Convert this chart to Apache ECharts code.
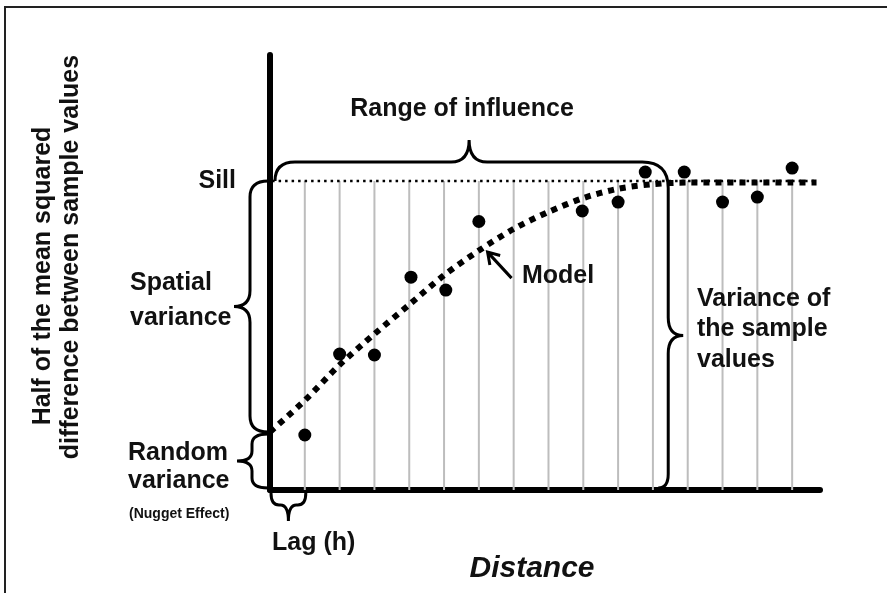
<!DOCTYPE html>
<html>
<head>
<meta charset="utf-8">
<script src="https://cdn.jsdelivr.net/npm/echarts/dist/echarts.min.js"></script>
<style>
html, body { margin: 0; padding: 0; background: #fff; }
#chart { width: 887px; height: 593px; }
</style>
</head>
<body>
<div id="chart"></div>
<script>
// lag classes (distance units), one gray line per lag
var lags = [1, 2, 3, 4, 5, 6, 7, 8, 9, 10, 11, 12, 13, 14, 15];

// experimental semivariogram points
var sampleX = [1, 2, 3, 4.05, 5.05, 6, 8.97, 10, 10.78, 11.9, 13, 14, 15];
var sampleY = [1.78, 4.40, 4.37, 6.89, 6.47, 8.69, 9.03, 9.32, 10.29, 10.29, 9.32, 9.48, 10.42];

// fitted model
var modelX = [0, 1, 2, 3, 4, 5, 6, 7, 8, 9, 10, 11, 12, 13, 14, 15, 15.7];
var modelY = [1.88, 2.9, 4.05, 5.05, 6.0, 6.95, 7.75, 8.45, 9.0, 9.45, 9.75, 9.9, 9.95, 9.95, 9.95, 9.95, 9.95];

var sill = 10;
var nugget = 1.88;
var rangeH = 11.44;
var sillFrom = -0.5, sillTo = 15.7;

var chart = echarts.init(document.getElementById('chart'));
var font = '"Liberation Sans", Arial, sans-serif';

function plainAxis(max) {
    return {
        type: 'value', min: 0, max: max,
        axisLine: { lineStyle: { color: '#000', width: 6 } },
        axisTick: { show: false },
        axisLabel: { show: false },
        splitLine: { show: false }
    };
}

// curly brace from a to b, bulging to the left of the a->b direction
function bracePath(ax, ay, bx, by, d, t, r) {
    var L = Math.hypot(bx - ax, by - ay);
    var ex = (bx - ax) / L, ey = (by - ay) / L;
    var nx = ey, ny = -ex;
    function P(u, v) {
        return (ax + ex * u + nx * v).toFixed(1) + ',' + (ay + ey * u + ny * v).toFixed(1);
    }
    var m = L / 2;
    return 'M' + P(0, 0) + ' Q' + P(0, d) + ' ' + P(r, d) +
        ' L' + P(m - r, d) + ' Q' + P(m, d) + ' ' + P(m, d + t) +
        ' Q' + P(m, d) + ' ' + P(m + r, d) +
        ' L' + P(L - r, d) + ' Q' + P(L, d) + ' ' + P(L, 0);
}

function renderDecor(params, api) {
    var o = api.coord([0, 0]);
    var x0 = o[0], yB = o[1];
    var yS = api.coord([0, sill])[1], yN = api.coord([0, nugget])[1];
    var xR = api.coord([rangeH, 0])[0], xL1 = api.coord([1, 0])[0];

    // range of influence brace running into the sample-variance brace
    var xm = (x0 + xR) / 2, yT = yS - 19, yV = (yS + yB) / 2;
    var rangePath = 'M' + (x0 + 5) + ',' + yS + ' Q' + (x0 + 5) + ',' + yT + ' ' + (x0 + 25) + ',' + yT +
        ' L' + (xm - 18) + ',' + yT + ' Q' + xm + ',' + yT + ' ' + xm + ',' + (yT - 22) +
        ' Q' + xm + ',' + yT + ' ' + (xm + 18) + ',' + yT +
        ' L' + (xR - 26) + ',' + yT + ' Q' + xR + ',' + yT + ' ' + xR + ',' + (yT + 26) +
        ' L' + xR + ',' + (yV - 18) + ' Q' + xR + ',' + yV + ' ' + (xR + 15) + ',' + yV +
        ' Q' + xR + ',' + yV + ' ' + xR + ',' + (yV + 18) +
        ' L' + xR + ',' + (yB - 16) + ' Q' + xR + ',' + (yB - 2) + ' ' + (xR - 10) + ',' + (yB - 2);

    // arrow pointing at the model curve
    var tip = api.coord([6.25, 7.7]);
    var tail = [tip[0] + 24, tip[1] + 26];
    var k = Math.hypot(24, 26), ux = 24 / k, uy = 26 / k;
    var arrowPath = 'M' + tail[0] + ',' + tail[1] + ' L' + tip[0] + ',' + tip[1] +
        ' M' + (tip[0] + ux * 11 - uy * 7) + ',' + (tip[1] + uy * 11 + ux * 7) +
        ' L' + tip[0] + ',' + tip[1] +
        ' L' + (tip[0] + ux * 11 + uy * 7) + ',' + (tip[1] + uy * 11 - ux * 7);

    var paths = [
        rangePath,
        bracePath(x0 - 2, yN, x0 - 2, yS, 18, 16, 16),
        bracePath(x0 - 2, yB - 2, x0 - 2, yN + 2, 16, 15, 10),
        bracePath(xL1 + 1, yB + 3, x0 + 1, yB + 3, 12, 16, 8),
        arrowPath
    ];
    return {
        type: 'group',
        children: paths.map(function (d) {
            return {
                type: 'path',
                shape: { pathData: d },
                style: { stroke: '#000', fill: 'none', lineWidth: 3 }
            };
        })
    };
}

function label(text, x, y, size, align, extra) {
    return {
        type: 'text', x: x, y: y, z: 20,
        style: {
            text: text, fill: '#111',
            font: (extra || '') + 'bold ' + size + 'px ' + font,
            align: align || 'left', verticalAlign: 'middle'
        }
    };
}

var t1 = label('Half of the mean squared', 43, 276, 25, 'center');
t1.rotation = Math.PI / 2;
var t2 = label('difference between sample values', 71, 257, 25, 'center');
t2.rotation = Math.PI / 2;

chart.setOption({
    animation: false,
    backgroundColor: '#fff',
    grid: { left: 270, right: 67, top: 55, bottom: 103 },
    xAxis: plainAxis(15.8),
    yAxis: plainAxis(14.08),
    graphic: [
        { type: 'line', z: 30, shape: { x1: 4, y1: 7, x2: 887, y2: 7 }, style: { stroke: '#222', lineWidth: 2 } },
        { type: 'line', z: 30, shape: { x1: 5, y1: 7, x2: 5, y2: 593 }, style: { stroke: '#222', lineWidth: 2 } },
        label('Range of influence', 462, 109, 25, 'center'),
        label('Sill', 236, 181, 25, 'right'),
        label('Spatial', 130, 283, 25),
        label('variance', 130, 318, 25),
        label('Random', 128, 453, 25),
        label('variance', 128, 481, 25),
        label('(Nugget Effect)', 129, 514, 14),
        label('Model', 522, 276, 25),
        label('Variance of', 697, 299, 25),
        label('the sample', 697, 329, 25),
        label('values', 697, 360, 25),
        label('Lag (h)', 272, 543, 25),
        label('Distance', 532, 569, 30, 'center', 'italic '),
        t1, t2
    ],
    series: [
        {
            type: 'custom',
            data: lags.map(function (l) { return [l, sill]; }),
            renderItem: function (params, api) {
                var a = api.coord([api.value(0), 0]);
                var b = api.coord([api.value(0), api.value(1)]);
                return {
                    type: 'line',
                    shape: { x1: a[0], y1: a[1], x2: b[0], y2: b[1] },
                    style: { stroke: '#bdbdbd', lineWidth: 2 }
                };
            },
            silent: true
        },
        {
            type: 'line',
            data: [[sillFrom, sill], [sillTo, sill]],
            symbol: 'none',
            clip: false,
            lineStyle: { color: '#000', width: 2.5, type: [2.5, 4] }
        },
        {
            type: 'line',
            data: modelX.map(function (x, i) { return [x, modelY[i]]; }),
            smooth: 0.3,
            symbol: 'none',
            lineStyle: { color: '#000', width: 6, type: [6, 6] }
        },
        {
            type: 'scatter',
            data: sampleX.map(function (x, i) { return [x, sampleY[i]]; }),
            symbolSize: 13,
            itemStyle: { color: '#000', opacity: 1 },
            z: 5
        },
        {
            type: 'custom',
            data: [[0, 0]],
            clip: false,
            silent: true,
            z: 6,
            renderItem: renderDecor
        }
    ]
});
</script>
</body>
</html>
